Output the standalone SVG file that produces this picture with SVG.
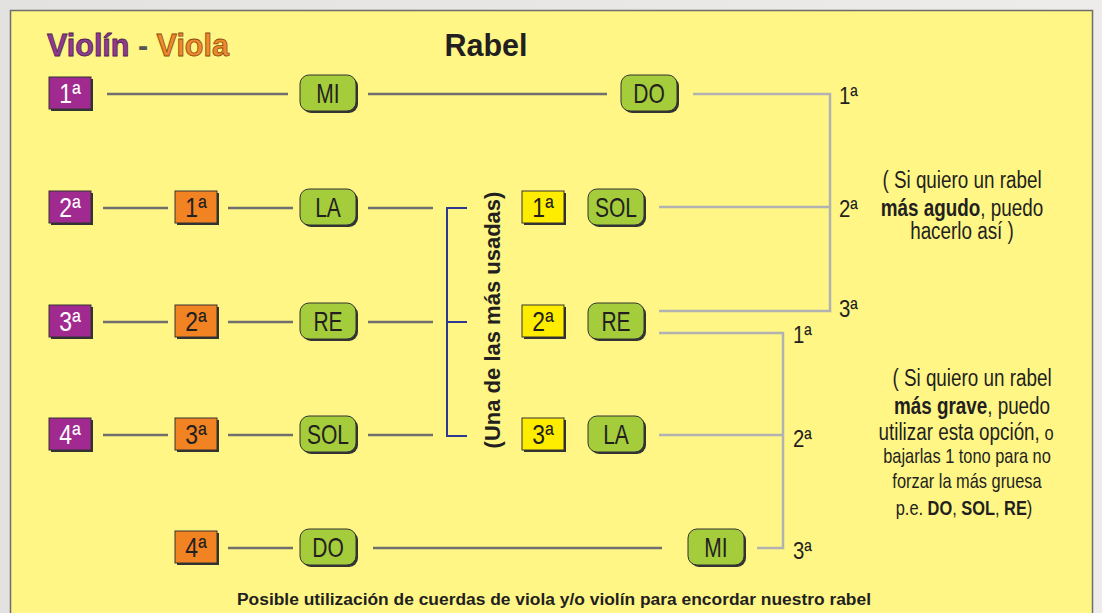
<svg xmlns="http://www.w3.org/2000/svg" width="1102" height="613" viewBox="0 0 1102 613">
<defs>
<linearGradient id="bg" x1="0" y1="0" x2="1" y2="0">
<stop offset="0" stop-color="#e4e2e0"/><stop offset="1" stop-color="#eeecea"/>
</linearGradient>
<style>
.sq{stroke:#333;stroke-width:1}
.sh{fill:#333}
.pu{fill:#a02a8f}
.or{fill:#f28322}
.ye{fill:#ffed00}
.gr{fill:#a5cc3b;stroke:#333;stroke-width:1}
.bt{font-family:"Liberation Sans",Arial,sans-serif;font-size:28px;text-anchor:middle;fill:#231f20}
.wt{fill:#fff}
.dk{stroke:#6f6f6f;stroke-width:2.5;fill:none}
.lt{stroke:#b2b2b2;stroke-width:2.5;fill:none}
.bl{stroke:#2b3990;stroke-width:2;fill:none}
.num{font-family:"Liberation Sans",Arial,sans-serif;font-size:24px;fill:#231f20}
.note{font-family:"Liberation Sans",Arial,sans-serif;font-size:23px;fill:#231f20;text-anchor:middle}
.small{font-size:20px}
.b{font-weight:bold}
.ttl{font-family:"Liberation Sans",Arial,sans-serif;font-weight:bold;font-size:30.5px}
</style>
</defs>
<rect width="1102" height="613" fill="url(#bg)"/>
<rect x="10.5" y="10.5" width="1082" height="612" fill="#fff685" stroke="#6e6e6e" stroke-width="1.5"/>

<text class="ttl" x="47" y="56"><tspan fill="#8f3b8f" stroke="#4f234f" stroke-width="0.8">Violín</tspan><tspan fill="#555"> - </tspan><tspan fill="#f0892a" stroke="#8a4a12" stroke-width="0.8">Viola</tspan></text>
<text class="ttl" x="486" y="56" text-anchor="middle" fill="#231f20">Rabel</text>

<g id="connectors">
<path class="dk" d="M107 94H288M368 94H607"/>
<path class="lt" d="M693 94H830V311H659"/>
<path class="dk" d="M103 208H168M228 208H293M368 208H433"/>
<path class="dk" d="M103 322H168M228 322H293M368 322H433"/>
<path class="dk" d="M103 435H168M228 435H293M368 435H433"/>
<path class="dk" d="M228 548H293M373 548H662"/>
<path class="bl" d="M467 208H447V436H467M447 322H467"/>
<path class="lt" d="M659 207H830"/>
<path class="lt" d="M659 333H783V548H757M659 435H783"/>
</g>

<g id="v1"><rect class="sh" x="51" y="79" width="42" height="32"/><rect class="pu sq" x="49" y="77" width="42" height="32"/><text class="bt wt" transform="translate(70 103) scale(0.82 1)">1ª</text></g>
<g id="v2"><rect class="sh" x="51" y="193" width="42" height="32"/><rect class="pu sq" x="49" y="191" width="42" height="32"/><text class="bt wt" transform="translate(70 217) scale(0.82 1)">2ª</text></g>
<g id="v3"><rect class="sh" x="51" y="307" width="42" height="32"/><rect class="pu sq" x="49" y="305" width="42" height="32"/><text class="bt wt" transform="translate(70 331) scale(0.82 1)">3ª</text></g>
<g id="v4"><rect class="sh" x="51" y="420" width="42" height="32"/><rect class="pu sq" x="49" y="418" width="42" height="32"/><text class="bt wt" transform="translate(70 444) scale(0.82 1)">4ª</text></g>

<g id="a1"><rect class="sh" x="177" y="193" width="42" height="32"/><rect class="or sq" x="175" y="191" width="42" height="32"/><text class="bt" transform="translate(196 217) scale(0.82 1)">1ª</text></g>
<g id="a2"><rect class="sh" x="177" y="307" width="42" height="32"/><rect class="or sq" x="175" y="305" width="42" height="32"/><text class="bt" transform="translate(196 331) scale(0.82 1)">2ª</text></g>
<g id="a3"><rect class="sh" x="177" y="420" width="42" height="32"/><rect class="or sq" x="175" y="418" width="42" height="32"/><text class="bt" transform="translate(196 444) scale(0.82 1)">3ª</text></g>
<g id="a4"><rect class="sh" x="177" y="533" width="42" height="32"/><rect class="or sq" x="175" y="531" width="42" height="32"/><text class="bt" transform="translate(196 557) scale(0.82 1)">4ª</text></g>

<g id="mi1"><rect class="sh" x="302" y="77" width="56" height="36" rx="9"/><rect class="gr" x="300" y="75" width="56" height="36" rx="9"/><text class="bt" transform="translate(328 103) scale(0.75 1)">MI</text></g>
<g id="la1"><rect class="sh" x="302" y="191" width="56" height="36" rx="9"/><rect class="gr" x="300" y="189" width="56" height="36" rx="9"/><text class="bt" transform="translate(328 217) scale(0.75 1)">LA</text></g>
<g id="re1"><rect class="sh" x="302" y="305" width="56" height="36" rx="9"/><rect class="gr" x="300" y="303" width="56" height="36" rx="9"/><text class="bt" transform="translate(328 331) scale(0.75 1)">RE</text></g>
<g id="sol1"><rect class="sh" x="302" y="418" width="56" height="36" rx="9"/><rect class="gr" x="300" y="416" width="56" height="36" rx="9"/><text class="bt" transform="translate(328 444) scale(0.75 1)">SOL</text></g>
<g id="do1"><rect class="sh" x="302" y="531" width="56" height="36" rx="9"/><rect class="gr" x="300" y="529" width="56" height="36" rx="9"/><text class="bt" transform="translate(328 557) scale(0.75 1)">DO</text></g>

<g id="bracket-label"><text class="b" x="0" y="0" transform="translate(500 320) rotate(-90)" text-anchor="middle" font-family="Liberation Sans,Arial,sans-serif" font-size="22" fill="#231f20">(Una de las más usadas)</text></g>

<g id="y1"><rect class="sh" x="524" y="193" width="42" height="32"/><rect class="ye sq" x="522" y="191" width="42" height="32"/><text class="bt" transform="translate(543 217) scale(0.82 1)">1ª</text></g>
<g id="y2"><rect class="sh" x="524" y="307" width="42" height="32"/><rect class="ye sq" x="522" y="305" width="42" height="32"/><text class="bt" transform="translate(543 331) scale(0.82 1)">2ª</text></g>
<g id="y3"><rect class="sh" x="524" y="420" width="42" height="32"/><rect class="ye sq" x="522" y="418" width="42" height="32"/><text class="bt" transform="translate(543 444) scale(0.82 1)">3ª</text></g>

<g id="sol2"><rect class="sh" x="590" y="191" width="56" height="36" rx="9"/><rect class="gr" x="588" y="189" width="56" height="36" rx="9"/><text class="bt" transform="translate(616 217) scale(0.75 1)">SOL</text></g>
<g id="re2"><rect class="sh" x="590" y="305" width="56" height="36" rx="9"/><rect class="gr" x="588" y="303" width="56" height="36" rx="9"/><text class="bt" transform="translate(616 331) scale(0.75 1)">RE</text></g>
<g id="la2"><rect class="sh" x="590" y="418" width="56" height="36" rx="9"/><rect class="gr" x="588" y="416" width="56" height="36" rx="9"/><text class="bt" transform="translate(616 444) scale(0.75 1)">LA</text></g>

<g id="do2"><rect class="sh" x="623" y="77" width="56" height="36" rx="9"/><rect class="gr" x="621" y="75" width="56" height="36" rx="9"/><text class="bt" transform="translate(649 103) scale(0.75 1)">DO</text></g>
<g id="mi2"><rect class="sh" x="690" y="531" width="56" height="36" rx="9"/><rect class="gr" x="688" y="529" width="56" height="36" rx="9"/><text class="bt" transform="translate(716 557) scale(0.75 1)">MI</text></g>

<g id="nums">
<text class="num" transform="translate(839 104) scale(0.85 1)">1ª</text>
<text class="num" transform="translate(839 217) scale(0.85 1)">2ª</text>
<text class="num" transform="translate(839 317) scale(0.85 1)">3ª</text>
<text class="num" transform="translate(793 343) scale(0.85 1)">1ª</text>
<text class="num" transform="translate(793 447) scale(0.85 1)">2ª</text>
<text class="num" transform="translate(793 559) scale(0.85 1)">3ª</text>
</g>

<g id="note-agudo">
<text class="note" transform="translate(962 188) scale(0.82 1)">( Si quiero un rabel</text>
<text class="note" transform="translate(962 216) scale(0.82 1)"><tspan class="b">más agudo</tspan>, puedo</text>
<text class="note" transform="translate(962 239) scale(0.82 1)">hacerlo así )</text>
</g>
<g id="note-grave">
<text class="note" transform="translate(972 386) scale(0.82 1)">( Si quiero un rabel</text>
<text class="note" transform="translate(972 414) scale(0.82 1)"><tspan class="b">más grave</tspan>, puedo</text>
<text class="note" transform="translate(966 440) scale(0.82 1)">utilizar esta opción,<tspan class="small"> o</tspan></text>
<text class="note small" transform="translate(967 463) scale(0.82 1)">bajarlas 1 tono para no</text>
<text class="note small" transform="translate(967 488) scale(0.82 1)">forzar la más gruesa</text>
<text class="note small" transform="translate(964 515) scale(0.82 1)">p.e.  <tspan class="b">DO</tspan>, <tspan class="b">SOL</tspan>, <tspan class="b">RE</tspan>)</text>
</g>

<text x="554" y="605" text-anchor="middle" font-family="Liberation Sans,Arial,sans-serif" font-weight="bold" font-size="17.4" fill="#231f20">Posible utilización de cuerdas de viola y/o violín para encordar nuestro rabel</text>
</svg>
